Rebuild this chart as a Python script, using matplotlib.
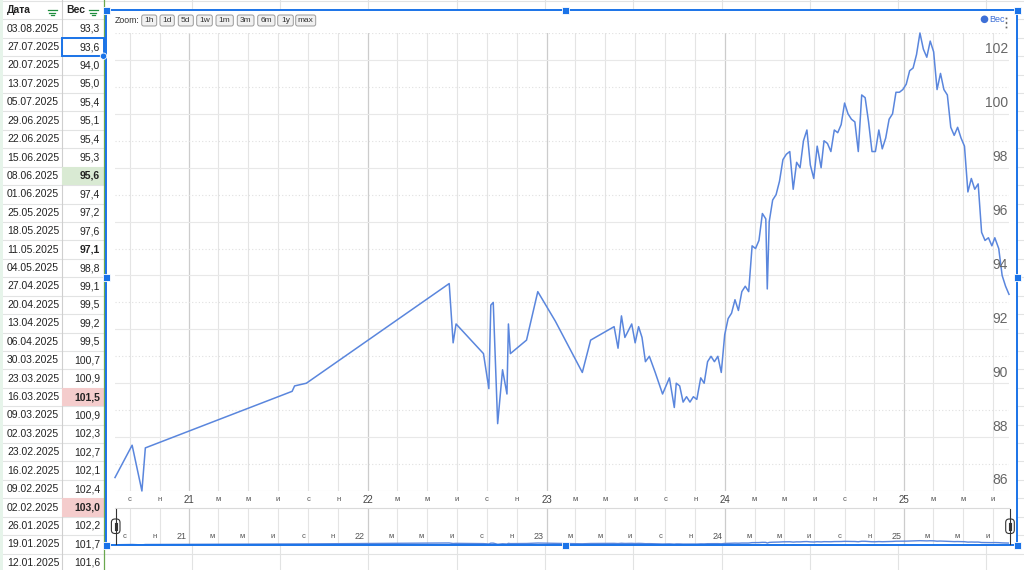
import datetime as dt
import matplotlib
matplotlib.use('Agg')
import matplotlib.pyplot as plt
import matplotlib.dates as mdates
import matplotlib.transforms as mtrans
from matplotlib.patches import Rectangle, FancyBboxPatch, Circle
from matplotlib.ticker import MultipleLocator, FuncFormatter

plt.rcParams['font.family'] = ['Liberation Sans', 'DejaVu Sans']

# ---------------- data ----------------
hist_dates = [
    '2020-08-02', '2020-09-06', '2020-09-26', '2020-10-03',
    '2021-07-30', '2021-08-04', '2021-08-28',
    '2022-06-16', '2022-06-24', '2022-06-30', '2022-08-25', '2022-09-05',
    '2022-09-09', '2022-09-14', '2022-09-23', '2022-10-03', '2022-10-12',
    '2022-10-15', '2022-10-19', '2022-11-21', '2022-12-14',
    '2023-01-19', '2023-03-15', '2023-04-01', '2023-05-19', '2023-05-27',
    '2023-06-03', '2023-06-10', '2023-06-24', '2023-07-01', '2023-07-08',
    '2023-07-15', '2023-07-22', '2023-07-30', '2023-08-11', '2023-08-26',
    '2023-09-09', '2023-09-19', '2023-09-23', '2023-09-30', '2023-10-07',
    '2023-10-14', '2023-10-21', '2023-10-28', '2023-11-04', '2023-11-12',
    '2023-11-19', '2023-11-26', '2023-12-03', '2023-12-10', '2023-12-17',
    '2023-12-24', '2023-12-31',
    '2024-01-07', '2024-01-14', '2024-01-21', '2024-01-28', '2024-02-04',
    '2024-02-11', '2024-02-18', '2024-02-25', '2024-03-03', '2024-03-10',
    '2024-03-17', '2024-03-24', '2024-03-27', '2024-03-31', '2024-04-07',
    '2024-04-14', '2024-04-21', '2024-04-28', '2024-05-05', '2024-05-12',
    '2024-05-19', '2024-05-26', '2024-06-02', '2024-06-09', '2024-06-16',
    '2024-06-23', '2024-06-30', '2024-07-07', '2024-07-15', '2024-07-21',
    '2024-07-28', '2024-08-04', '2024-08-11', '2024-08-18', '2024-08-25',
    '2024-09-01', '2024-09-08', '2024-09-15', '2024-09-22', '2024-09-29',
    '2024-10-06', '2024-10-13', '2024-10-20', '2024-10-27', '2024-11-03',
    '2024-11-10', '2024-11-17', '2024-11-24', '2024-12-01', '2024-12-08',
    '2024-12-15', '2024-12-22', '2024-12-29', '2025-01-05',
]
hist_weights = [
    86.5, 87.7, 86.0, 87.6,
    89.7, 89.9, 90.0,
    93.7, 91.5, 92.2, 91.1, 89.8,
    92.9, 93.0, 88.5, 90.5, 89.6,
    92.2, 91.1, 91.6, 93.4,
    92.3, 90.4, 91.6, 92.1, 91.3,
    92.5, 91.7, 92.2, 91.5, 92.1,
    91.7, 90.8, 91.0, 90.4, 89.6,
    90.2, 89.1, 90.0, 89.9, 89.3,
    89.5, 89.3, 89.5, 89.4, 90.2,
    90.0, 90.8, 91.0, 90.8, 91.0,
    90.4, 91.8,
    92.4, 92.6, 93.1, 92.7, 93.4,
    93.6, 93.4, 95.1, 95.0, 95.3,
    96.3, 96.1, 93.5, 96.0, 96.8,
    97.0, 97.5, 98.3, 98.5, 98.6,
    97.2, 98.2, 98.0, 99.0, 99.4,
    98.1, 97.6, 98.8, 98.0, 99.0,
    98.9, 98.6, 99.4, 99.3, 99.6,
    100.4, 100.0, 99.8, 99.7, 98.6,
    100.7, 100.6, 99.7, 98.6, 98.6,
    99.4, 98.7, 99.1, 99.8, 100.0,
    100.8, 100.8, 100.9, 101.1,
]
table_dates = [
    '03.08.2025', '27.07.2025', '20.07.2025', '13.07.2025', '05.07.2025',
    '29.06.2025', '22.06.2025', '15.06.2025', '08.06.2025', '01.06.2025',
    '25.05.2025', '18.05.2025', '11.05.2025', '04.05.2025', '27.04.2025',
    '20.04.2025', '13.04.2025', '06.04.2025', '30.03.2025', '23.03.2025',
    '16.03.2025', '09.03.2025', '02.03.2025', '23.02.2025', '16.02.2025',
    '09.02.2025', '02.02.2025', '26.01.2025', '19.01.2025', '12.01.2025',
]
table_weights = [
    93.3, 93.6, 94.0, 95.0, 95.4,
    95.1, 95.4, 95.3, 95.6, 97.4,
    97.2, 97.6, 97.1, 98.8, 99.1,
    99.5, 99.2, 99.5, 100.7, 100.9,
    101.5, 100.9, 102.3, 102.7, 102.1,
    102.4, 103.0, 102.2, 101.7, 101.6,
]
col_headers = ['Дата', 'Вес']
series_name = 'Вес'
zoom_label = 'Zoom:'
zoom_buttons = ['1h', '1d', '5d', '1w', '1m', '3m', '6m', '1y', 'max']
month_letters = {3: 'м', 5: 'м', 7: 'и', 9: 'с', 11: 'н'}

green_cells = ['08.06.2025']
red_cells = ['16.03.2025', '02.02.2025']
bold_cells = ['08.06.2025', '11.05.2025', '16.03.2025', '02.02.2025']
selected_cell = '27.07.2025'

# ---------------- styles ----------------
LINE = '#5a86dd'
BLUE = '#1a73e8'
SHEET_GRID = '#e2e3e3'

dates = ([dt.datetime.strptime(d, '%Y-%m-%d') for d in hist_dates] +
         [dt.datetime.strptime(d, '%d.%m.%Y') for d in reversed(table_dates)])
weights = hist_weights + list(reversed(table_weights))

W, H = 1024, 570
fig = plt.figure(figsize=(W / 100, H / 100), dpi=100)
fig.patch.set_facecolor('white')


def fr(px0, py0, px1, py1):
    return [px0 / W, 1 - py1 / H, (px1 - px0) / W, (py1 - py0) / H]


# ---------------- sheet background ----------------
bg = fig.add_axes([0, 0, 1, 1], zorder=0)
bg.set_xlim(0, W)
bg.set_ylim(H, 0)
bg.axis('off')

ROW0, ROWH = 28.6, 18.42
row_c = [ROW0 + ROWH * i for i in range(len(table_dates))]
borders = [ROW0 - ROWH / 2 + ROWH * i for i in range(len(table_dates) + 1)]
for b in borders:
    bg.plot([0, W], [b, b], color=SHEET_GRID, lw=0.8, zorder=1)
bg.plot([0, W], [0.5, 0.5], color=SHEET_GRID, lw=0.8, zorder=1)
for k in range(10):
    xv = 191.7 + 88.3 * k
    bg.plot([xv, xv], [0, H], color=SHEET_GRID, lw=0.8, zorder=1)
bg.plot([62, 62], [0, H], color='#cfcfcf', lw=0.8, zorder=1)
bg.add_patch(Rectangle((0, 0), 3, H, fc='#e6f4ea', ec='none', zorder=1))
bg.plot([103.5, 103.5], [0, H], color='#6aa84f', lw=0.9, zorder=3)

# chart white area
bg.add_patch(Rectangle((106, 10), 911, 535, fc='white', ec='none', zorder=2))

# table cells
for d, v, yc in zip(table_dates, table_weights, row_c):
    if d in green_cells:
        bg.add_patch(Rectangle((62, yc - ROWH / 2), 41.5, ROWH, fc='#d9ead3', ec='none', zorder=1.5))
    if d in red_cells:
        bg.add_patch(Rectangle((62, yc - ROWH / 2), 41.5, ROWH, fc='#f4cccc', ec='none', zorder=1.5))
    bg.text(7, yc, d, ha='left', va='center', fontsize=7.5, color='#222', zorder=4)
    bg.text(100, yc, f'{v:.1f}'.replace('.', ','), ha='right', va='center', fontsize=7.5,
            color='#222', fontweight='bold' if d in bold_cells else 'normal', zorder=4)

bg.text(7, 10.3, col_headers[0], ha='left', va='center', fontsize=7.5, fontweight='bold', color='#222', zorder=4)
bg.text(66, 10.3, col_headers[1], ha='left', va='center', fontsize=7.5, fontweight='bold', color='#222', zorder=4)
for cx in (52, 93):
    for wdt, yy in ((9, 10.3), (6, 12.8), (3, 15.3)):
        bg.plot([cx - wdt / 2, cx + wdt / 2], [yy, yy], color='#1e8e3e', lw=0.9, zorder=4)

# ---------------- main chart ----------------
ax = fig.add_axes(fr(115, 33, 1009, 491), zorder=5)
ax.patch.set_alpha(0)
ax.plot(dates, weights, color=LINE, lw=1.1, clip_on=False, zorder=3)
ax.set_xlim(dates[0], dates[-1])
ax.set_ylim(86, 103)
for s in ax.spines.values():
    s.set_visible(False)

ax.xaxis.set_major_locator(mdates.YearLocator())
ax.xaxis.set_minor_locator(mdates.MonthLocator(bymonth=(3, 5, 7, 9, 11)))
ax.xaxis.set_major_formatter(FuncFormatter(lambda x, p: mdates.num2date(x).strftime('%y')))
ax.xaxis.set_minor_formatter(FuncFormatter(lambda x, p: month_letters.get(mdates.num2date(x).month, '')))
ax.yaxis.set_major_locator(MultipleLocator(2))
ax.yaxis.set_minor_locator(MultipleLocator(1))

ax.grid(True, axis='x', which='major', color='#cccccc', lw=0.9)
ax.grid(True, axis='x', which='minor', color='#e4e4e4', lw=0.8)
ax.grid(True, axis='y', which='major', color='#e8e8e8', lw=0.8)
ax.grid(True, axis='y', which='minor', color='#e0e0e0', lw=0.8, linestyle=(0, (1, 2)))
ax.set_axisbelow(True)

ax.tick_params(axis='x', which='major', length=0, labelsize=7, labelcolor='#444', pad=3)
ax.tick_params(axis='x', which='minor', length=0, labelsize=5.5, labelcolor='#555', pad=3.6)
ax.tick_params(axis='y', which='both', length=0, labelleft=False, labelright=False)

ytrans = mtrans.offset_copy(mtrans.blended_transform_factory(ax.transAxes, ax.transData),
                            fig=fig, x=-1, y=3.5, units='dots')
for v in ax.yaxis.get_majorticklocs():
    if 86 <= v <= 103:
        ax.text(1.0, v, f'{v:.0f}', transform=ytrans, ha='right', va='bottom',
                fontsize=10, color='#666666', zorder=4)

# ---------------- navigator ----------------
nav = fig.add_axes(fr(115, 508, 1009, 545), zorder=5)
nav.patch.set_alpha(0)
nav.plot(dates, weights, color=LINE, lw=1.0)
nav.set_xlim(dates[0], dates[-1])
nav.set_ylim(85.5, 235)
for name, s in nav.spines.items():
    s.set_visible(name == 'top')
nav.spines['top'].set_color('#dadada')
nav.spines['top'].set_linewidth(0.8)
nav.xaxis.set_major_locator(mdates.YearLocator())
nav.xaxis.set_minor_locator(mdates.MonthLocator(bymonth=(3, 5, 7, 9, 11)))
nav.grid(True, axis='x', which='major', color='#cccccc', lw=0.9)
nav.grid(True, axis='x', which='minor', color='#e4e4e4', lw=0.8)
nav.set_yticks([])
nav.tick_params(axis='x', which='both', length=0, labelbottom=False)
ntrans = mtrans.offset_copy(mtrans.blended_transform_factory(nav.transData, nav.transAxes),
                            fig=fig, x=-3, y=0, units='dots')
x0n, x1n = nav.get_xlim()
for t in nav.xaxis.get_majorticklocs():
    if x0n < t < x1n:
        nav.text(t, 0.22, mdates.num2date(t).strftime('%y'), transform=ntrans,
                 ha='right', va='center', fontsize=6.5, color='#555')
for t in nav.xaxis.get_minorticklocs():
    if x0n < t < x1n:
        nav.text(t, 0.22, month_letters.get(mdates.num2date(t).month, ''), transform=ntrans,
                 ha='right', va='center', fontsize=5.5, color='#555')

# ---------------- overlay (UI) ----------------
ov = fig.add_axes([0, 0, 1, 1], zorder=10)
ov.set_xlim(0, W)
ov.set_ylim(H, 0)
ov.axis('off')
ov.patch.set_alpha(0)

# zoom buttons
ov.text(114.3, 20.5, zoom_label, ha='left', va='center', fontsize=6.3, color='#333')
btn_left = [141.7, 160, 178.3, 196.7, 216, 237.3, 257.7, 277.7, 295.7]
btn_w = [15, 14.3, 15, 15.6, 17.3, 16.7, 17.3, 15.6, 20]
for lab, bx, bw in zip(zoom_buttons, btn_left, btn_w):
    ov.add_patch(FancyBboxPatch((bx, 15), bw, 11, boxstyle='round,pad=0,rounding_size=2',
                                fc='#f1f1f1', ec='#9a9a9a', lw=0.7))
    ov.text(bx + bw / 2, 20.7, lab, ha='center', va='center', fontsize=6, color='#333')

# legend
ov.add_patch(Circle((984.5, 19.3), 3.8, fc='#3d6fd6', ec='none'))
ov.text(989, 19.5, series_name, ha='left', va='center', fontsize=6.5, color='#3d6fd6')
for yy in (18.5, 23, 27.5):
    ov.add_patch(Circle((1006.5, yy), 1.3, fc='#666', ec='white', lw=0.4))

# navigator handles
for hx in (115.7, 1010):
    ov.plot([hx, hx], [509, 544], color='#333', lw=0.8)
    ov.add_patch(FancyBboxPatch((hx - 4.3, 519), 8.6, 14.5, boxstyle='round,pad=0,rounding_size=3.5',
                                fc='white', ec='#333', lw=0.8))
    for dx in (-1.1, 1.1):
        ov.plot([hx + dx, hx + dx], [523, 529.5], color='#333', lw=0.8)

# chart selection border and handles
ov.add_patch(Rectangle((106, 10), 911, 535, fill=False, ec=BLUE, lw=1.4))
for hx, hy in ((106, 10), (565, 10), (1017, 10), (106, 277), (1017, 277),
               (106, 545), (565, 545), (1017, 545)):
    ov.add_patch(Rectangle((hx - 3.5, hy - 3.5), 7, 7, fc=BLUE, ec='white', lw=0.6))

# selected table cell
i_sel = table_dates.index(selected_cell)
ov.add_patch(Rectangle((62, row_c[i_sel] - ROWH / 2), 41.5, ROWH, fill=False, ec=BLUE, lw=1.4))
ov.add_patch(Circle((103.5, row_c[i_sel] + ROWH / 2), 3.2, fc=BLUE, ec='white', lw=0.6))

fig.savefig('out.png', dpi=100)
